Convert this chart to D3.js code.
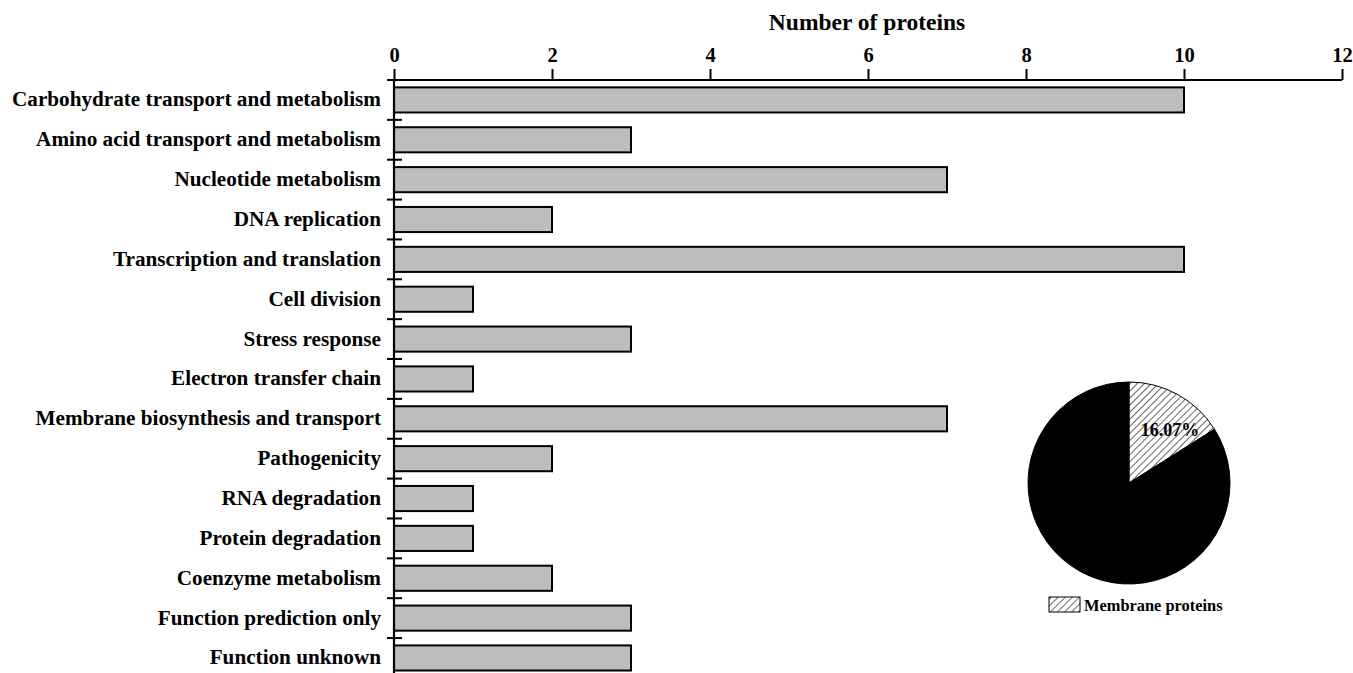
<!DOCTYPE html>
<html>
<head>
<meta charset="utf-8">
<script src="https://cdn.jsdelivr.net/npm/d3@7"></script>
<style>
  body { margin: 0; background: #fff; }
  text { font-family: "Liberation Serif", "Times New Roman", serif; font-weight: bold; }
</style>
</head>
<body>
<div class="chart"></div>
<script>
const categories = [
  "Carbohydrate transport and metabolism",
  "Amino acid transport and metabolism",
  "Nucleotide metabolism",
  "DNA replication",
  "Transcription and translation",
  "Cell division",
  "Stress response",
  "Electron transfer chain",
  "Membrane biosynthesis and transport",
  "Pathogenicity",
  "RNA degradation",
  "Protein degradation",
  "Coenzyme metabolism",
  "Function prediction only",
  "Function unknown"
];
const counts = [10, 3, 7, 2, 10, 1, 3, 1, 7, 2, 1, 1, 2, 3, 3];
const xTicks = [0, 2, 4, 6, 8, 10, 12];
const pieLabels = ["Membrane proteins", "Other proteins"];
const pieValues = [9, 47];

const totalWidth = 1353, totalHeight = 673;
const margin = { top: 80, left: 394, right: 11 };
const width = totalWidth - margin.left - margin.right;
const bandH = 39.86;

const svg = d3
  .select(".chart")
  .append("svg")
  .attr("width", totalWidth)
  .attr("height", totalHeight);

const defs = svg.append("defs");
const pat = defs
  .append("pattern")
  .attr("id", "hatch")
  .attr("patternUnits", "userSpaceOnUse")
  .attr("width", 5)
  .attr("height", 5)
  .attr("patternTransform", "rotate(45)");
pat.append("rect").attr("width", 5).attr("height", 5).attr("fill", "white");
pat.append("line").attr("x1", 0).attr("y1", 0).attr("x2", 0).attr("y2", 5)
  .attr("stroke", "black").attr("stroke-width", 1.2);

const xScale = d3.scaleLinear().domain([0, 12]).range([0, width]);
const yScale = d3
  .scaleBand()
  .domain(categories)
  .range([0, bandH * categories.length])
  .paddingInner(0.37)
  .paddingOuter(0.185);

const g = svg.append("g").attr("transform", `translate(${margin.left}, ${margin.top})`);

// bars
g.selectAll("rect.bar")
  .data(categories)
  .enter()
  .append("rect")
  .attr("class", "bar")
  .attr("x", 0)
  .attr("y", (d) => yScale(d))
  .attr("width", (d, i) => xScale(counts[i]))
  .attr("height", yScale.bandwidth())
  .attr("fill", "#bdbdbd")
  .attr("stroke", "black")
  .attr("stroke-width", 2);

// top axis
const xAxis = d3.axisTop(xScale).tickValues(xTicks).tickSize(11).tickPadding(7);
const xg = g.append("g").call(xAxis);
xg.select(".domain").attr("stroke-width", 2.2).attr("d", `M0,0H${width}`);
xg.selectAll(".tick line").attr("stroke-width", 2);
xg.selectAll(".tick text").attr("font-size", 20.5).attr("font-family", "Liberation Serif").attr("font-weight", "bold");

svg
  .append("text")
  .attr("x", margin.left + width / 2 - 1)
  .attr("y", 30)
  .attr("text-anchor", "middle")
  .attr("font-size", 23.5)
  .text("Number of proteins");

// left axis
g.append("line")
  .attr("x1", 0).attr("x2", 0)
  .attr("y1", 0).attr("y2", totalHeight - margin.top)
  .attr("stroke", "black").attr("stroke-width", 2.2);

g.selectAll("line.sep")
  .data(d3.range(1, categories.length))
  .enter()
  .append("line")
  .attr("class", "sep")
  .attr("x1", -7).attr("x2", 8)
  .attr("y1", (i) => i * bandH).attr("y2", (i) => i * bandH)
  .attr("stroke", "black").attr("stroke-width", 2);
g.append("line")
  .attr("x1", -7).attr("x2", 0).attr("y1", 0).attr("y2", 0)
  .attr("stroke", "black").attr("stroke-width", 2);

g.selectAll("text.cat")
  .data(categories)
  .enter()
  .append("text")
  .attr("class", "cat")
  .attr("x", -13)
  .attr("y", (d) => yScale(d) + yScale.bandwidth() / 2 - 1)
  .attr("dy", "0.35em")
  .attr("text-anchor", "end")
  .attr("font-size", 21.2)
  .text((d) => d);

// pie
const cx = 1129, cy = 483, r = 101;
const pie = d3.pie().sort(null).value((d) => d);
const arc = d3.arc().innerRadius(0).outerRadius(r);
const arcs = pie(pieValues);
const pg = svg.append("g").attr("transform", `translate(${cx}, ${cy})`);
pg.selectAll("path")
  .data(arcs)
  .enter()
  .append("path")
  .attr("d", arc)
  .attr("fill", (d, i) => (i === 0 ? "url(#hatch)" : "black"))
  .attr("stroke", "black")
  .attr("stroke-width", 1);

const total = d3.sum(pieValues);
pg.append("text")
  .attr("x", 41)
  .attr("y", -53)
  .attr("text-anchor", "middle")
  .attr("dy", "0.35em")
  .attr("font-size", 18)
  .text(d3.format(".2f")((pieValues[0] / total) * 100) + "%");

// legend
svg.append("rect")
  .attr("x", 1049).attr("y", 597).attr("width", 31).attr("height", 15)
  .attr("fill", "url(#hatch)").attr("stroke", "black").attr("stroke-width", 1);
svg.append("text")
  .attr("x", 1084).attr("y", 605)
  .attr("dy", "0.35em")
  .attr("font-size", 16.4)
  .text(pieLabels[0]);
</script>
</body>
</html>
